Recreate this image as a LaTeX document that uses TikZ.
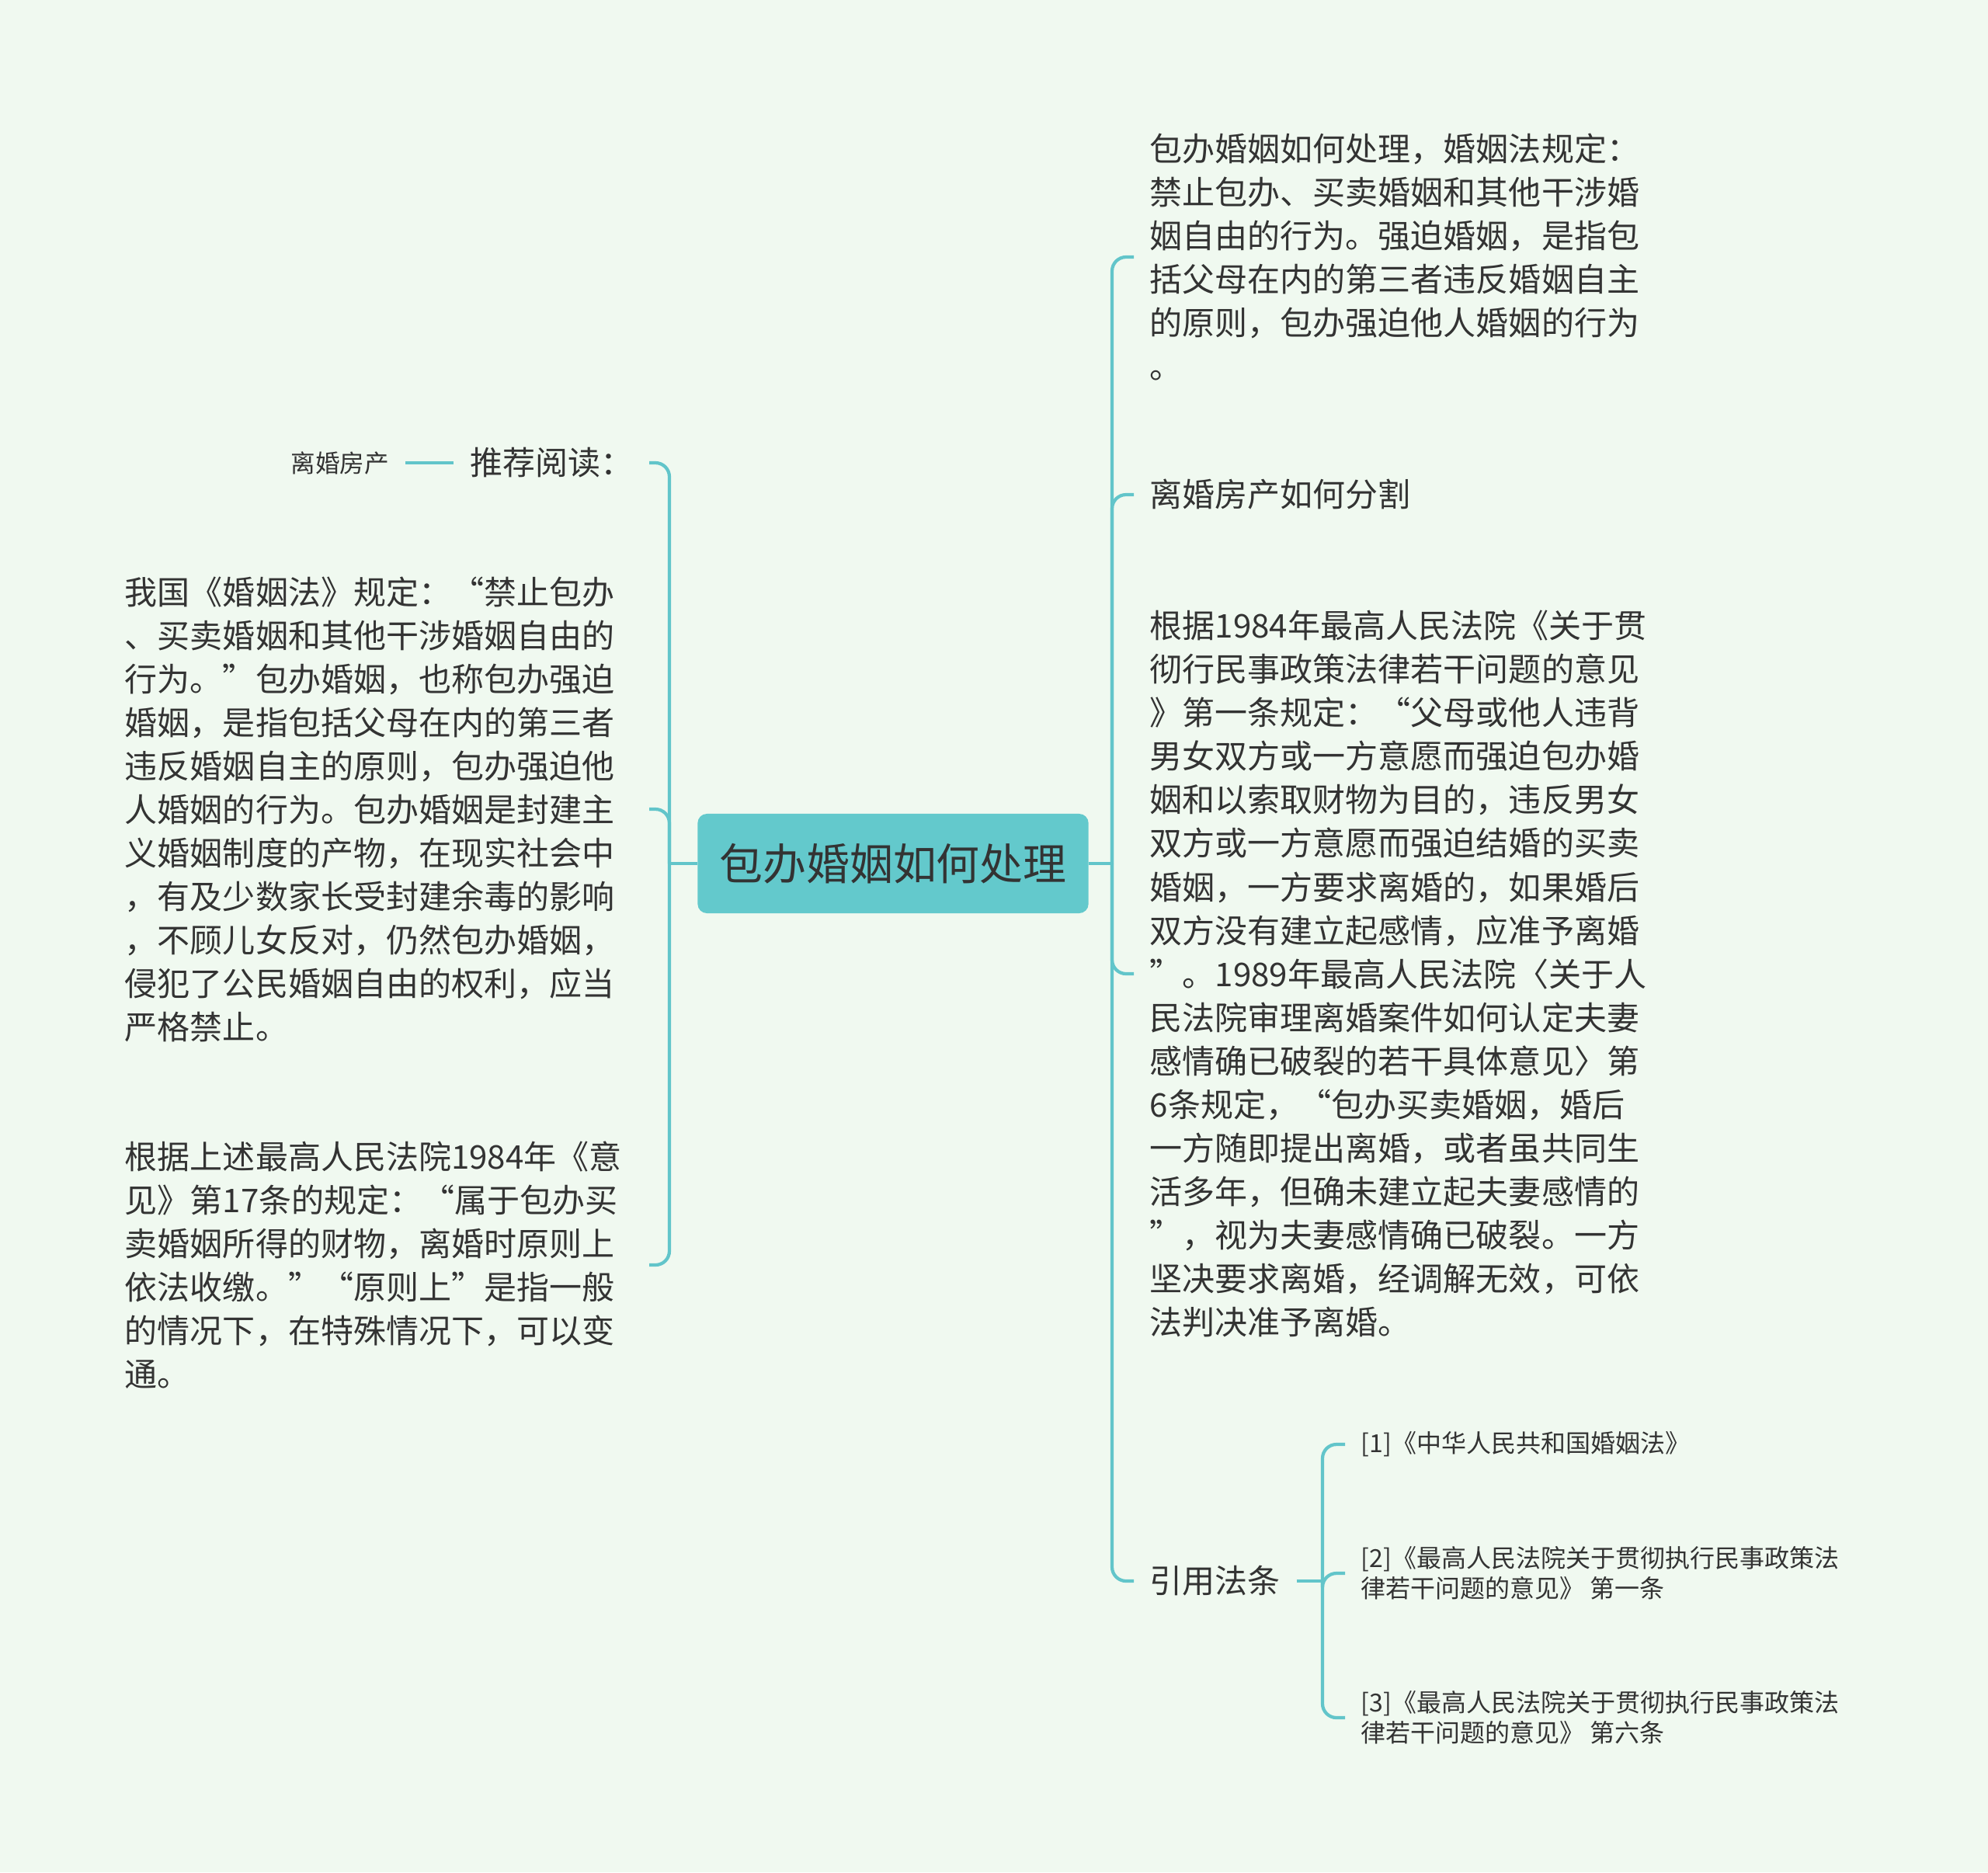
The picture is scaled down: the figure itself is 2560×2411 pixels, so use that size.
\documentclass[tikz,border=0pt]{standalone}
\usepackage{fontspec}
\setmainfont{Noto Sans CJK SC}
\definecolor{bgmint}{HTML}{F0F9F0}
\definecolor{linkteal}{HTML}{62C5CA}
\definecolor{rootfill}{HTML}{63C9CC}
\definecolor{inkgrey}{HTML}{333333}

\begin{document}
\begin{tikzpicture}[x=0.01cm,y=-0.01cm,
	link/.style={draw=linkteal,line width=1.2pt},
	elbow/.style={link,rounded corners=0.18cm},
	root/.style={fill=rootfill,rounded corners=0.12cm,minimum width=5.03cm,minimum height=1.28cm,text=inkgrey,font=\fontsize{15.9}{19}\selectfont},
	para/.style={text=inkgrey,align=left,inner xsep=0.2cm,inner ysep=0pt,font=\fontsize{11.95}{15.93}\selectfont},
	leftpara/.style={para,text width=6.54cm,anchor=east},
	rightpara/.style={para,anchor=west},
	tiptext/.style={para,anchor=east,font=\fontsize{9}{11}\selectfont},
	refs/.style={para,anchor=west,font=\fontsize{9.1}{10.95}\selectfont}]
					\fill[bgmint] (0,0) rectangle (2560,2411);
					\useasboundingbox (0,0) rectangle (2560,2411);
					%Root
					\node[root] (root) at (1150,1112) {包办婚姻如何处理};
					\coordinate (lbus) at (862,1112);
					\coordinate (rbus) at (1432,1112);
					%Left side
					\node[para,anchor=east] (tuijian) at (836,596) {推荐阅读：};
					\node[tiptext] (lihun) at (522,596) {离婚房产};
					\node[leftpara] (woguo) at (836,1042) {我国《婚姻法》规定：“禁止包办\\、买卖婚姻和其他干涉婚姻自由的\\行为。”包办婚姻，也称包办强迫\\婚姻，是指包括父母在内的第三者\\违反婚姻自主的原则，包办强迫他\\人婚姻的行为。包办婚姻是封建主\\义婚姻制度的产物，在现实社会中\\，有及少数家长受封建余毒的影响\\，不顾儿女反对，仍然包办婚姻，\\侵犯了公民婚姻自由的权利，应当\\严格禁止。};
					\node[leftpara] (genju) at (836,1629) {根据上述最高人民法院1984年《意\\见》第17条的规定：“属于包办买\\卖婚姻所得的财物，离婚时原则上\\依法收缴。”“原则上”是指一般\\的情况下，在特殊情况下，可以变\\通。};
					%Right side
					\node[rightpara] (chuli) at (1460,331) {包办婚姻如何处理，婚姻法规定：\\禁止包办、买卖婚姻和其他干涉婚\\姻自由的行为。强迫婚姻，是指包\\括父母在内的第三者违反婚姻自主\\的原则，包办强迫他人婚姻的行为\\。};
					\node[rightpara] (fenge) at (1460,637) {离婚房产如何分割};
					\node[rightpara] (yijian) at (1460,1254) {根据1984年最高人民法院《关于贯\\彻行民事政策法律若干问题的意见\\》第一条规定：“父母或他人违背\\男女双方或一方意愿而强迫包办婚\\姻和以索取财物为目的，违反男女\\双方或一方意愿而强迫结婚的买卖\\婚姻，一方要求离婚的，如果婚后\\双方没有建立起感情，应准予离婚\\”。1989年最高人民法院〈关于人\\民法院审理离婚案件如何认定夫妻\\感情确已破裂的若干具体意见〉第\\6条规定，“包办买卖婚姻，婚后\\一方随即提出离婚，或者虽共同生\\活多年，但确未建立起夫妻感情的\\”，视为夫妻感情确已破裂。一方\\坚决要求离婚，经调解无效，可依\\法判决准予离婚。};
					\node[rightpara] (yinyong) at (1460,2036) {引用法条};
					\coordinate (fbus) at (1703,2036);
					%Depth 2
					\node[refs] (fa1) at (1732,1860) {[1]《中华人民共和国婚姻法》};
					\node[refs] (fa2) at (1732,2026) {[2]《最高人民法院关于贯彻执行民事政策法\\律若干问题的意见》 第一条};
					\node[refs] (fa3) at (1732,2212) {[3]《最高人民法院关于贯彻执行民事政策法\\律若干问题的意见》 第六条};
					%Connectors
					\draw[link] (root.west) -- (lbus);
					\draw[link] (root.east) -- (rbus);
					\foreach \n in {tuijian,woguo,genju}
						\draw[elbow] (lbus) |- (\n.east);
					\foreach \n in {chuli,fenge,yijian,yinyong}
						\draw[elbow] (rbus) |- (\n.west);
					\draw[link] (tuijian.west) -- (lihun.east);
					\draw[link] (yinyong.east) -- (fbus);
					\foreach \n in {fa1,fa2,fa3}
						\draw[elbow] (fbus) |- (\n.west);
\end{tikzpicture}
\end{document}
